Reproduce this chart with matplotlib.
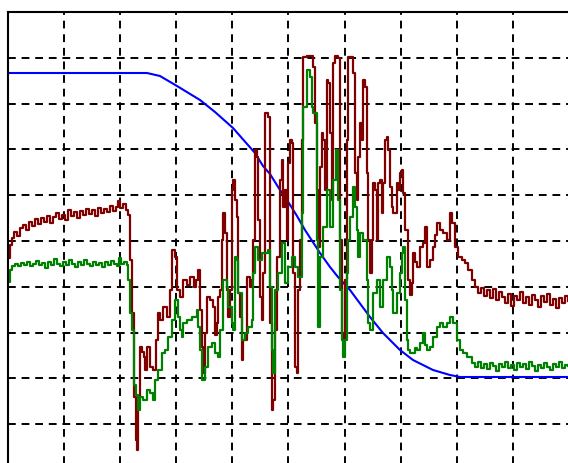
import numpy as np
from matplotlib import pyplot as plt

# blue reference curve (smooth fall)
blue_x = [0, 139, 152, 169, 192, 207, 225, 247, 255, 262, 272, 279, 289, 297, 312,
          322, 330, 342, 362, 375, 392, 405, 425, 442, 452, 561]
blue_y = [397, 397, 394, 384, 370, 358, 342, 317, 304, 296, 280, 270, 254, 240, 217,
          203, 193, 180, 153, 137, 120, 110, 100, 95, 93, 93]

# dark red measured signal
red_x = [0, 2, 4, 6, 9, 12, 15, 18, 21, 24, 27, 30, 33, 36, 39, 42, 45, 48, 51, 54,
         57, 60, 63, 66, 69, 72, 75, 78, 81, 84, 87, 90, 93, 96, 99, 102, 105, 108, 110, 112,
         115, 118, 120, 122, 124, 126, 128, 129, 130, 132, 134, 136, 137, 139, 142, 145, 148, 150, 152, 155,
         159, 162, 164, 167, 169, 172, 175, 179, 182, 186, 188, 190, 192, 194, 195, 197, 199, 202, 205, 207,
         209, 210, 212, 214, 215, 217, 219, 220, 222, 224, 225, 227, 229, 230, 232, 234, 235, 239, 242, 244,
         245, 247, 249, 250, 252, 254, 255, 257, 260, 262, 264, 265, 267, 269, 272, 274, 275, 277, 279, 280,
         282, 284, 285, 287, 289, 290, 292, 294, 295, 299, 304, 305, 307, 309, 310, 312, 314, 315, 317, 319,
         320, 322, 324, 325, 327, 330, 332, 334, 335, 337, 339, 340, 344, 345, 347, 349, 350, 352, 354, 355,
         357, 359, 360, 362, 364, 365, 367, 369, 370, 372, 374, 375, 377, 379, 380, 382, 384, 385, 389, 390,
         392, 394, 395, 397, 400, 402, 404, 405, 407, 409, 412, 415, 417, 419, 422, 425, 427, 429, 432, 435,
         439, 442, 444, 447, 450, 454, 457, 460, 464, 467, 470, 473, 476, 479, 482, 485, 488, 491, 494, 497,
         500, 503, 506, 509, 512, 515, 518, 521, 524, 527, 530, 533, 536, 539, 542, 545, 548, 551, 554, 557,
         560]
red_y = [212, 225, 232, 238, 234, 242, 245, 240, 248, 244, 251, 246, 252, 248, 254, 247, 253, 257, 251, 255,
         250, 260, 254, 258, 252, 259, 255, 261, 256, 260, 254, 262, 257, 261, 258, 264, 259, 263, 269, 262,
         266, 260, 255, 210, 157, 73, 30, 20, 73, 123, 118, 113, 100, 123, 103, 100, 130, 157, 150, 163,
         153, 180, 220, 213, 180, 173, 190, 185, 193, 183, 190, 200, 160, 123, 97, 137, 173, 170, 163, 135,
         147, 173, 180, 230, 257, 237, 180, 153, 180, 280, 290, 270, 253, 177, 153, 110, 130, 193, 183, 190,
         230, 320, 313, 250, 173, 150, 197, 357, 353, 147, 60, 70, 140, 213, 290, 310, 263, 280, 230, 307,
         330, 327, 197, 103, 97, 180, 230, 330, 413, 414, 414, 403, 347, 280, 223, 303, 337, 330, 280, 390,
         387, 337, 270, 407, 414, 412, 230, 137, 130, 190, 330, 413, 413, 397, 297, 270, 313, 347, 330, 390,
         383, 297, 230, 197, 230, 287, 280, 230, 287, 290, 257, 287, 330, 333, 320, 283, 263, 257, 287, 280,
         297, 300, 277, 240, 190, 175, 187, 217, 208, 203, 223, 227, 243, 203, 210, 223, 235, 247, 240, 237,
         230, 257, 247, 223, 213, 210, 207, 200, 190, 183, 177, 182, 174, 180, 172, 181, 170, 178, 173, 167,
         176, 164, 174, 170, 178, 167, 173, 165, 175, 170, 163, 174, 168, 176, 165, 171, 162, 172, 167, 174,
         169]

# green measured signal
green_x = [0, 2, 4, 7, 10, 13, 16, 19, 22, 25, 28, 31, 34, 37, 40, 43, 46, 49, 52, 55,
           58, 61, 64, 67, 70, 73, 76, 79, 82, 85, 88, 91, 94, 97, 100, 103, 106, 109, 111, 113,
           116, 119, 120, 122, 124, 126, 128, 130, 132, 135, 139, 142, 145, 147, 150, 154, 157, 160, 164, 167,
           170, 172, 174, 175, 179, 184, 189, 190, 192, 194, 197, 200, 204, 207, 210, 212, 215, 219, 220, 224,
           225, 227, 229, 230, 234, 237, 240, 244, 245, 247, 250, 254, 257, 260, 262, 264, 265, 267, 270, 274,
           277, 280, 284, 287, 290, 294, 295, 299, 302, 304, 305, 309, 310, 312, 315, 319, 322, 325, 328, 330,
           332, 334, 335, 337, 339, 340, 342, 345, 347, 349, 350, 352, 355, 359, 360, 362, 365, 369, 372, 375,
           379, 382, 384, 385, 389, 392, 394, 395, 397, 399, 400, 402, 404, 407, 409, 412, 415, 417, 419, 422,
           425, 429, 432, 435, 439, 442, 445, 449, 452, 455, 459, 464, 467, 470, 473, 476, 479, 482, 485, 488,
           491, 494, 497, 500, 503, 506, 509, 512, 515, 518, 521, 524, 527, 530, 533, 536, 539, 542, 545, 548,
           551, 554, 557, 560]
green_y = [188, 200, 204, 206, 204, 207, 205, 208, 204, 206, 209, 205, 207, 202, 208, 205, 211, 206, 204, 208,
           205, 210, 206, 203, 208, 205, 210, 206, 204, 208, 205, 207, 203, 208, 205, 209, 206, 204, 212, 206,
           208, 205, 190, 157, 140, 85, 75, 60, 73, 70, 80, 77, 70, 90, 100, 117, 120, 133, 150, 170,
           153, 140, 133, 147, 150, 153, 160, 143, 120, 90, 103, 123, 127, 117, 113, 140, 190, 183, 163, 147,
           140, 213, 210, 177, 130, 137, 143, 150, 197, 223, 210, 217, 217, 220, 183, 120, 97, 180, 197, 227,
           187, 203, 213, 203, 193, 257, 363, 400, 393, 363, 357, 230, 143, 213, 243, 280, 243, 290, 320, 270,
           180, 130, 113, 130, 197, 230, 253, 283, 263, 240, 213, 237, 230, 190, 147, 140, 177, 190, 163, 190,
           213, 203, 180, 157, 177, 197, 217, 223, 170, 130, 120, 117, 117, 122, 120, 127, 137, 125, 120, 123,
           133, 143, 147, 143, 147, 153, 147, 130, 120, 117, 113, 107, 103, 108, 102, 106, 101, 107, 104, 99,
           106, 103, 108, 102, 105, 100, 107, 103, 106, 101, 108, 104, 99, 105, 102, 107, 103, 100, 106, 103,
           108, 102, 105, 104]

fig = plt.figure(figsize=(5.68, 4.63), dpi=100)
ax = fig.add_axes([8 / 568, -7 / 463, 561 / 568, 458 / 463])

ax.plot(blue_x, blue_y, color='#0000ff', lw=1.5)
ax.plot(red_x, red_y, color='#800000', lw=1.6, drawstyle='steps-post')
ax.plot(green_x, green_y, color='#008000', lw=1.6, drawstyle='steps-post')

ax.set_xlim(0, 561)
ax.set_ylim(0, 458)
ax.set_xticks(np.arange(0, 562, 56.1))
ax.set_yticks(np.arange(0, 459, 45.8))
ax.set_xticklabels([])
ax.set_yticklabels([])
ax.tick_params(length=0)
ax.grid(True, color='black', lw=1.4, linestyle=(0, (4, 3)))
ax.set_axisbelow(True)
# only the left and top frame lines fall inside the picture
ax.spines['right'].set_visible(False)
ax.spines['bottom'].set_visible(False)
for s in ['left', 'top']:
    ax.spines[s].set_linewidth(1.5)
    ax.spines[s].set_color('black')

fig.savefig('out.png', dpi=100)
